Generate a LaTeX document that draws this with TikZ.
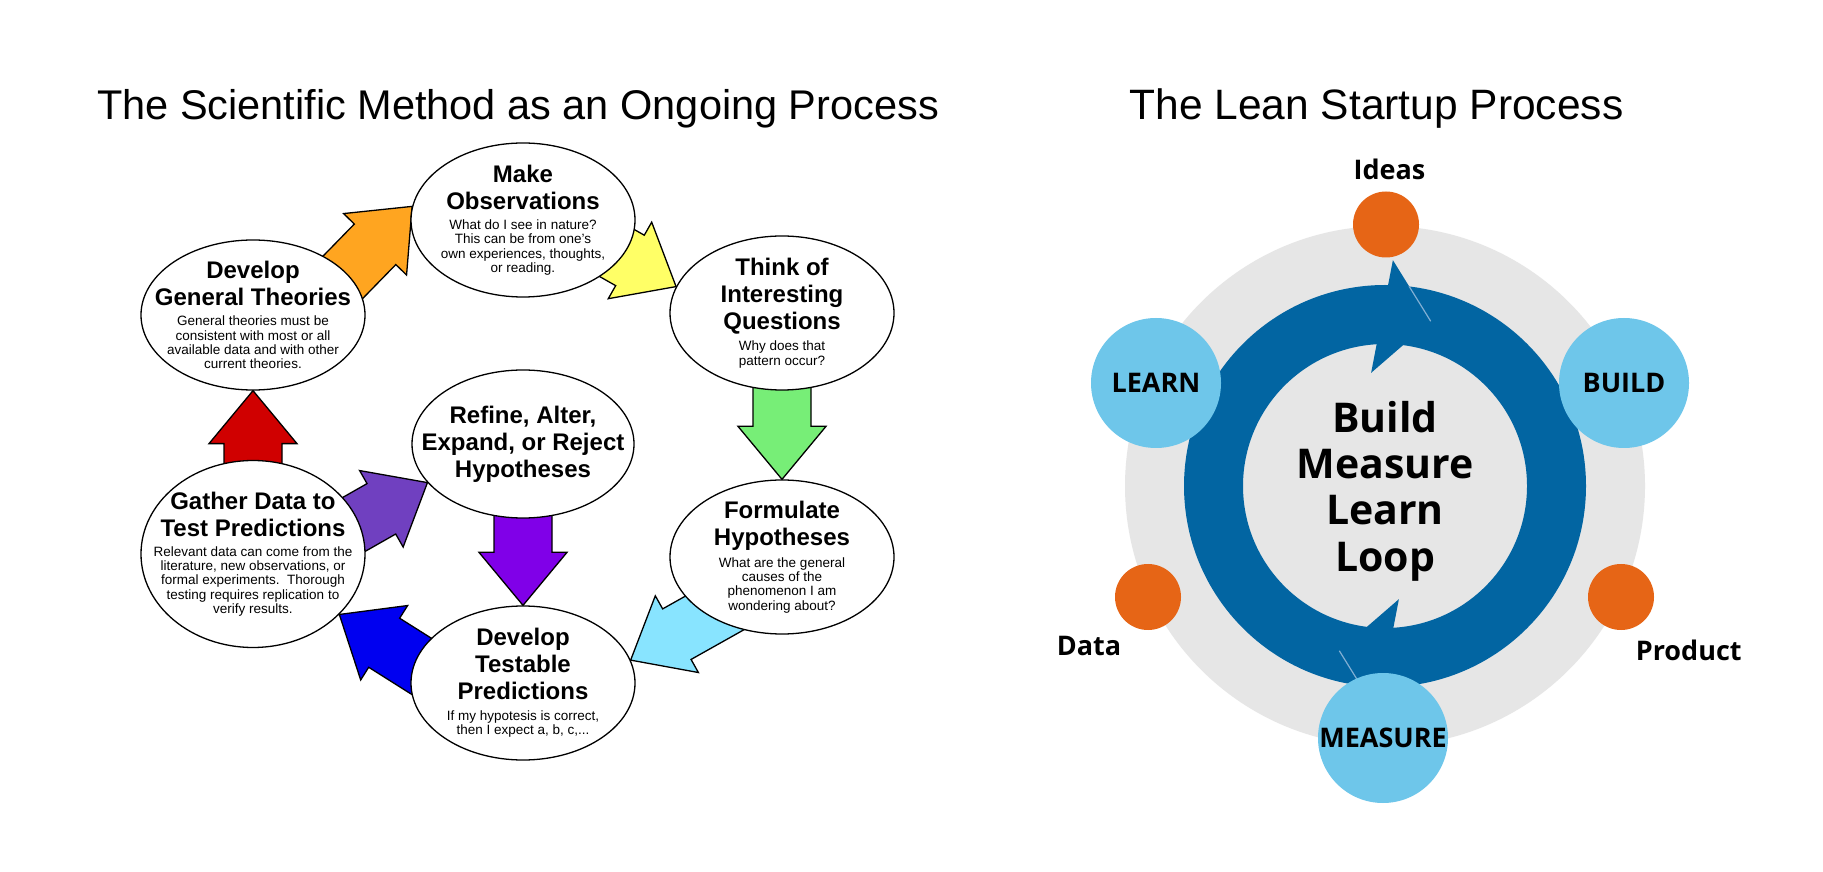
\documentclass[tikz,border=0pt]{standalone}
\usepackage{fontspec}
\setmainfont{Liberation Sans}
\newfontfamily\leanfont{Open Sans}
\usetikzlibrary{shapes.geometric, calc, backgrounds}
\setlength{\parindent}{0pt}

% scientific method arrows
\definecolor{arrorange}{RGB}{255,165,32}
\definecolor{arryellow}{RGB}{255,255,102}
\definecolor{arrgreen}{RGB}{119,238,119}
\definecolor{arrcyan}{RGB}{136,228,255}
\definecolor{arrblue}{RGB}{0,0,240}
\definecolor{arrred}{RGB}{208,0,0}
\definecolor{arrpurple}{RGB}{112,64,192}
\definecolor{arrviolet}{RGB}{128,0,232}
% lean startup loop
\definecolor{loopgrey}{RGB}{230,230,230}
\definecolor{loopblue}{RGB}{2,101,162}
\definecolor{stepblue}{RGB}{110,198,234}
\definecolor{dotorange}{RGB}{230,101,22}
\definecolor{seamblue}{RGB}{130,175,212}

\newcommand{\stagetitle}[1]{{\fontsize{24}{27}\selectfont\bfseries #1\par}}
\newcommand{\stagetext}[1]{\vspace{6pt}{\fontsize{13.5}{14.3}\selectfont #1\par}}
% fat arrow from node #2 to node #3
\newcommand{\blockarrow}[3]{%
  \coordinate (ba-tip) at (#3);
  \coordinate (ba-tail) at ($(#2)!-40pt!(ba-tip)$);
  \coordinate (ba-neck) at ($(ba-tip)!53pt!(ba-tail)$);
  \draw[blockline, fill=#1] ($(ba-tail)!29pt!90:(ba-tip)$) -- ($(ba-neck)!29pt!90:(ba-tip)$)
    -- ($(ba-neck)!44pt!90:(ba-tip)$) -- (ba-tip) -- ($(ba-neck)!44pt!-90:(ba-tip)$)
    -- ($(ba-neck)!29pt!-90:(ba-tip)$) -- ($(ba-tail)!29pt!-90:(ba-tip)$) -- cycle;
}

\begin{document}
\begin{tikzpicture}[
    x=1pt, y=1pt,
    stage/.style={ellipse, draw, line width=1.3pt, fill=white, minimum width=224pt, minimum height=154pt, inner sep=-40pt, text width=230pt, align=flush center},
    blockline/.style={draw=black, line width=1.3pt, line join=miter},
    heading/.style={anchor=base, font=\fontsize{42.5}{50}\selectfont},
    phase/.style={circle, fill=stepblue, minimum size=130pt, inner sep=0pt, font=\leanfont\bfseries\fontsize{27}{30}\selectfont},
    orangedot/.style={circle, fill=dotorange, minimum size=66pt, inner sep=0pt},
    dotlabel/.style={anchor=base, font=\leanfont\bfseries\fontsize{27}{30}\selectfont},
    looptext/.style={align=center, font=\leanfont\bfseries\fontsize{41}{46.3}\selectfont}
]
    \useasboundingbox (0,0) rectangle (1823,871);

    % Scientific method cycle
    \node[heading, font=\fontsize{41.5}{50}\selectfont] (scihead) at (518,751) {The Scientific Method as an Ongoing Process};
    \node[stage] (obs) at (523,651) {\stagetitle{Make\\Observations}\stagetext{What do I see in nature?\\This can be from one's\\own experiences, thoughts,\\or reading.}};
    \node[stage] (ques) at (782,558) {\stagetitle{Think of\\Interesting\\Questions}\stagetext{Why does that\\pattern occur?}};
    \node[stage] (hyp) at (782,314) {\stagetitle{Formulate\\Hypotheses}\stagetext{What are the general\\causes of the\\phenomenon I am\\wondering about?}};
    \node[stage] (pred) at (523,188) {\stagetitle{Develop\\Testable\\Predictions}\stagetext{If my hypotesis is correct,\\then I expect a, b, c,...}};
    \node[stage, minimum height=187pt] (gather) at (253,317) {\stagetitle{Gather Data to\\Test Predictions}\stagetext{Relevant data can come from the\\literature, new observations, or\\formal experiments.\ \ Thorough\\testing requires replication to\\verify results.}};
    \node[stage, minimum height=150pt] (theo) at (253,556) {\stagetitle{Develop\\General Theories}\stagetext{General theories must be\\consistent with most or all\\available data and with other\\current theories.}};
    \node[stage, minimum width=222pt, minimum height=148pt] (refine) at (523,427) {\stagetitle{Refine, Alter,\\Expand, or Reject\\Hypotheses}};

    % Arrows (behind the ellipses)
    \begin{scope}[on background layer]
        \fill[white] (0,0) rectangle (1823,871);
        \blockarrow{arrorange}{theo.24}{obs.173}
        \blockarrow{arryellow}{obs.-20}{ques.166}
        \blockarrow{arrgreen}{ques.south}{hyp.north}
        \blockarrow{arrcyan}{hyp.219}{pred.12}
        \blockarrow{arrblue}{pred.169}{gather.-35}
        \blockarrow{arrred}{gather.north}{theo.south}
        \blockarrow{arrpurple}{gather.17}{refine.202}
        \blockarrow{arrviolet}{refine.south}{pred.north}
    \end{scope}

    % Lean startup loop
    \node[heading] (leanhead) at (1376.5,751) {The Lean Startup Process};
    \coordinate (loop) at (1385,385);
    \fill[loopgrey] (loop) circle (260);
    \fill[loopblue, even odd rule] (loop) circle (201) (loop) circle (142);
    \foreach \r in {0,180}
        \fill[loopblue] ($(loop)+(88+\r:226)$) -- ($(loop)+(74.5+\r:171)$) -- ($(loop)+(97+\r:114)$) -- cycle;
    \begin{scope}
        \clip (loop) circle (201);
        \foreach \r in {0,180}
            \draw[seamblue, line width=1.2pt] ($(loop)+(74.5+\r:171)$) -- ($(loop)+(88+\r:226)$);
    \end{scope}
    \node[looptext] (looplabel) at (1385,380) {Build\\Measure\\Learn\\Loop};

    \node[orangedot] (ideasdot) at (1386,646.5) {};
    \node[orangedot] (datadot) at (1148,274) {};
    \node[orangedot] (productdot) at (1621,274) {};
    \node[phase] (learn) at (1156,488) {LEARN};
    \node[phase] (build) at (1624,488) {BUILD};
    \node[phase] (measure) at (1383,133) {MEASURE};

    \node[dotlabel] (ideas) at (1389.5,691) {Ideas};
    \node[dotlabel] (data) at (1089,216) {Data};
    \node[dotlabel] (product) at (1688.7,211) {Product};
\end{tikzpicture}
\end{document}
